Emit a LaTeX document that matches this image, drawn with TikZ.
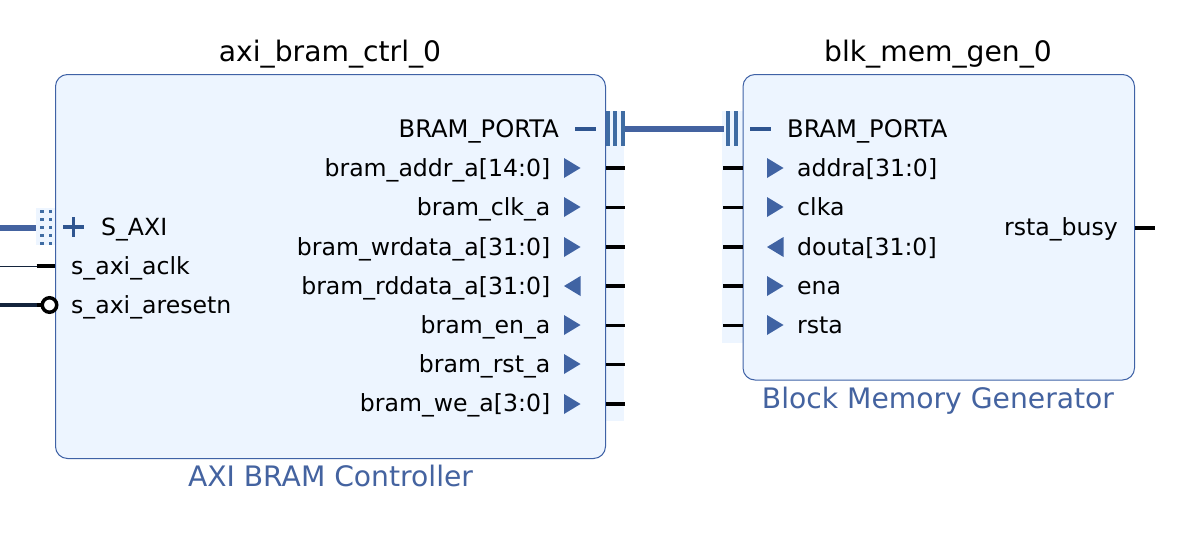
\documentclass[tikz,border=0pt]{standalone}
\usepackage{fontspec}
\setmainfont{DejaVu Sans}
\definecolor{blockfill}{HTML}{EDF5FF}
\definecolor{blockline}{HTML}{3F62A6}
\definecolor{busblue}{HTML}{4463A0}
\definecolor{barblue}{HTML}{3F6CA3}
\definecolor{signblue}{HTML}{2F5590}
\definecolor{trib}{HTML}{4063A3}
\definecolor{navy}{HTML}{14243C}
\tikzset{
  x=1pt,y=-1pt,
  blockbox/.style={draw=blockline,fill=blockfill,line width=1pt,rounded corners=12pt},
  portbg/.style={fill=blockfill,draw=none},
  titletext/.style={font=\fontsize{28.2}{28}\selectfont,text=black,inner sep=0pt,anchor=base},
  subtext/.style={font=\fontsize{28.2}{28}\selectfont,text=busblue,inner sep=0pt,anchor=base},
  lbl/.style={font=\fontsize{23.6}{24}\selectfont,text=black,inner sep=0pt},
  lblr/.style={lbl,anchor=base east},
  lbll/.style={lbl,anchor=base west},
  portlbl/.style={font=\fontsize{24.2}{24}\selectfont,text=black,inner sep=0pt},
  wirethin/.style={draw=black,line width=3pt},
  wirethick/.style={draw=black,line width=4pt},
  busline/.style={draw=busblue,line width=6.5pt},
  bar/.style={fill=barblue,draw=none},
  dotm/.style={fill=barblue,draw=none},
  sign/.style={draw=signblue,line width=3.2pt},
  tri/.style={fill=trib,draw=none},
}
\begin{document}
\begin{tikzpicture}
\useasboundingbox (0,0) rectangle (1202,533);
\fill[white] (0,0) rectangle (1202,533);
% port backgrounds
\fill[portbg] (36,208) rectangle (56,245);
\fill[portbg] (605,111) rectangle (624,421);
\fill[portbg] (722,111) rectangle (744,343);
% blocks
\node[blockbox,minimum width=550pt,minimum height=384pt,inner sep=0pt,anchor=north west] (ctrl) at (55,74) {};
\node[blockbox,minimum width=391.5pt,minimum height=305.5pt,inner sep=0pt,anchor=north west] (mem) at (742.5,74) {};
% titles
\node[titletext] (ctrlt) at (330,61) {axi\_bram\_ctrl\_0};
\node[titletext] (memt) at (938,61) {blk\_mem\_gen\_0};
\node[subtext] (ctrls) at (330.5,486.5) {AXI BRAM Controller};
\node[subtext] (mems) at (938,408.5) {Block Memory Generator};
% left block labels
\node[lbll] (saxi) at (101,235) {S\_AXI};
\node[lbll] (aclk) at (71,274) {s\_axi\_aclk};
\node[lbll] (aresetn) at (71,313) {s\_axi\_aresetn};
\node[portlbl,anchor=base east] (pa) at (559,137) {BRAM\_PORTA};
\node[lblr] (a1) at (550.5,176) {bram\_addr\_a[14:0]};
\node[lblr] (a2) at (550.5,215) {bram\_clk\_a};
\node[lblr] (a3) at (550.5,255) {bram\_wrdata\_a[31:0]};
\node[lblr] (a4) at (550.5,294) {bram\_rddata\_a[31:0]};
\node[lblr] (a5) at (550.5,333) {bram\_en\_a};
\node[lblr] (a6) at (550.5,372) {bram\_rst\_a};
\node[lblr] (a7) at (550.5,411) {bram\_we\_a[3:0]};
% right block labels
\node[portlbl,anchor=base west] (pb) at (787,137) {BRAM\_PORTA};
\node[lbll] (b1) at (797,176) {addra[31:0]};
\node[lbll] (b2) at (797,215) {clka};
\node[lbll] (b3) at (797,255) {douta[31:0]};
\node[lbll] (b4) at (797,294) {ena};
\node[lbll] (b5) at (797,333) {rsta};
\node[lblr] (busy) at (1118,235) {rsta\_busy};
% triangles
\foreach \y in {168,207,247,325,364,404}
  \fill[tri] (564,\y-10) -- (580.5,\y) -- (564,\y+10) -- cycle;
\fill[tri] (580.5,276) -- (564,286) -- (580.5,296) -- cycle;
\foreach \y in {168,207,286,325}
  \fill[tri] (767,\y-10) -- (783.5,\y) -- (767,\y+10) -- cycle;
\fill[tri] (783.5,237) -- (767,247) -- (783.5,257) -- cycle;
% signs
\draw[sign] (63,227) -- (84,227) (73.5,217) -- (73.5,237);
\draw[sign] (575,129) -- (596,129);
\draw[sign] (750,129) -- (771,129);
% stubs on the control block
\coordinate (sl1) at (624.5,168);\coordinate (sl2) at (624.5,207);\coordinate (sl3) at (624.5,247);
\coordinate (sl4) at (624.5,286);\coordinate (sl5) at (624.5,325);\coordinate (sl6) at (624.5,364);\coordinate (sl7) at (624.5,404);
\draw[wirethick] (ctrl.east |- sl1) -- (sl1);
\draw[wirethin] (ctrl.east |- sl2) -- (sl2);
\draw[wirethick] (ctrl.east |- sl3) -- (sl3);
\draw[wirethick] (ctrl.east |- sl4) -- (sl4);
\draw[wirethin] (ctrl.east |- sl5) -- (sl5);
\draw[wirethin] (ctrl.east |- sl6) -- (sl6);
\draw[wirethick] (ctrl.east |- sl7) -- (sl7);
% stubs on the memory block
\coordinate (sr1) at (723,168);\coordinate (sr2) at (723,207);\coordinate (sr3) at (723,247);
\coordinate (sr4) at (723,286);\coordinate (sr5) at (723,325);\coordinate (sr6) at (1154.5,228);
\draw[wirethick] (sr1) -- (mem.west |- sr1);
\draw[wirethin] (sr2) -- (mem.west |- sr2);
\draw[wirethick] (sr3) -- (mem.west |- sr3);
\draw[wirethick] (sr4) -- (mem.west |- sr4);
\draw[wirethin] (sr5) -- (mem.west |- sr5);
\draw[wirethick] (mem.east |- sr6) -- (sr6);
% BRAM bus
\fill[bar] (605.5,111) rectangle (609.5,146);
\fill[bar] (613,111) rectangle (617,146);
\fill[bar] (621,111) rectangle (625,146);
\fill[bar] (726,111) rectangle (730,146);
\fill[bar] (734,111) rectangle (738,146);
\coordinate (busa) at (625,129);\coordinate (busb) at (723.5,129);
\draw[busline] (busa) -- (busb);
% S_AXI connector
\foreach \y in {209.5,217.5,225.5,233.5,241.5}{
  \fill[dotm] (40,\y) rectangle (43.5,\y+3.5);
  \fill[dotm] (48.5,\y) rectangle (52,\y+3.5);
}
\coordinate (w1) at (0,228);\coordinate (w1e) at (36,228);
\draw[busline] (w1) -- (w1e);
% s_axi_aclk
\coordinate (w2) at (0,266);\coordinate (w2e) at (36.5,266);
\draw[draw=navy,line width=1pt] (w2) -- (w2e);
\draw[wirethick] (w2e) -- (ctrl.west |- w2e);
% s_axi_aresetn
\coordinate (w3) at (0,305);\coordinate (w3e) at (36.5,305);
\draw[draw=navy,line width=4pt] (w3) -- (w3e);
\draw[wirethick] (w3e) -- (43,305);
\node[circle,draw=black,fill=white,line width=3.5pt,minimum size=14.5pt,inner sep=0pt] (inv) at (49.5,305) {};
\end{tikzpicture}
\end{document}
